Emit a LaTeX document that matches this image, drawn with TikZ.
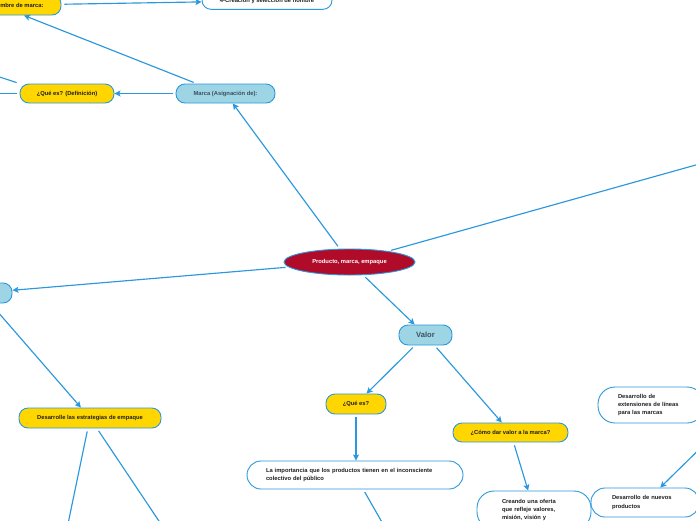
\documentclass[tikz,border=0pt]{standalone}
\usepackage{fontspec}
\setmainfont{Liberation Sans}
\usetikzlibrary{arrows.meta, shapes.geometric}
\definecolor{linkColor}{HTML}{2B97DD}
\definecolor{yellowFill}{HTML}{FFD600}
\definecolor{blueFill}{HTML}{9DD5E5}
\definecolor{redFill}{HTML}{B00C2A}
\definecolor{slateText}{HTML}{3D4F5F}

\tikzset{
    box/.style={draw=linkColor, line width=0.9pt, rounded corners=9pt, inner sep=0pt,
        font=\fontsize{5.8}{8.3}\selectfont\bfseries, text=black!88},
    yellowbox/.style={box, fill=yellowFill},
    bluebox/.style={box, fill=blueFill, text=slateText},
    whitebox/.style={box, fill=white, align=left, rounded corners=14pt, inner ysep=5pt},
    link/.style={draw=linkColor, line width=1.15pt, shorten <=3pt,
        -{Stealth[length=6pt, width=6pt, inset=1.2pt]}},
}

\begin{document}
\begin{tikzpicture}[x=1pt, y=-1pt]
    \useasboundingbox (0,0) rectangle (696,520);
    \clip (0,0) rectangle (696,520);

    % centre
    \node[ellipse, draw=linkColor, line width=0.9pt, fill=redFill, text=white, inner sep=0pt,
        minimum width=131pt, minimum height=26pt, font=\fontsize{5.8}{7}\selectfont\bfseries]
        (producto) at (349.5,262) {Producto, marca, empaque};

    % marca branch
    \node[bluebox, minimum width=99pt, minimum height=19pt] (marca) at (225.5,93.5) {Marca (Asignación de):};
    \node[yellowbox, minimum width=94pt, minimum height=19pt] (definicion) at (67,93.5) {¿Qué es? (Definición)};
    \node[yellowbox, minimum width=86pt, minimum height=20pt] (nombre) at (18,5) {Nombre de marca:};
    \node[box, fill=white, minimum width=130pt, minimum height=17pt] (creacion) at (267,0.8) {4-Creación y selección de nombre};
    \coordinate (defA) at (-40,64);
    \coordinate (defB) at (-40,93.5);

    % valor branch
    \node[bluebox, minimum width=53pt, minimum height=20pt, font=\fontsize{7.6}{9}\selectfont\bfseries] (valor) at (425.5,335) {Valor};
    \node[yellowbox, minimum width=60pt, minimum height=20pt] (quees) at (356,404) {¿Qué es?};
    \node[whitebox, text width=178pt, inner xsep=19pt, minimum height=28pt] (importancia) at (355,475)
        {La importancia que los productos tienen en el inconsciente\\colectivo del público};
    \node[yellowbox, minimum width=115pt, minimum height=19pt] (comodar) at (510.5,432.5) {¿Cómo dar valor a la marca?};
    \node[whitebox, text width=64pt, inner xsep=25pt, minimum height=38pt, rounded corners=17pt] (creando) at (534,510)
        {Creando una oferta\\que refleje valores,\\misión, visión y};
    \coordinate (impA) at (395,545);

    % right
    \node[whitebox, text width=66pt, inner xsep=20pt, minimum height=36pt, rounded corners=17pt] (extensiones) at (651,405)
        {Desarrollo de\\extensiones de líneas\\para las marcas};
    \node[whitebox, text width=66pt, inner xsep=21pt, minimum height=29pt] (nuevos) at (645,502.5)
        {Desarrollo de nuevos\\productos};
    \coordinate (topRight) at (760,147);
    \coordinate (nuevosIn) at (720,429);

    % empaque branch
    \node[bluebox, minimum width=64pt, minimum height=20pt] (empaque) at (-20,293) {};
    \node[yellowbox, minimum width=142pt, minimum height=20pt] (estrategias) at (90,418) {Desarrolle las estrategias de empaque};
    \coordinate (estA) at (63.6,545);
    \coordinate (estB) at (175,545);

    % connectors
    \draw[link] (producto) -- (marca);
    \draw[link] (producto) -- (topRight);
    \draw[link] (producto) -- (empaque);
    \draw[link] (producto) -- (valor);
    \draw[link] (marca) -- (definicion);
    \draw[link] ([xshift=-29pt]marca.north) -- ([xshift=6pt]nombre.south);
    \draw[link] (nombre) -- (creacion);
    \draw[link] (definicion.north west) -- (defA);
    \draw[link] (definicion) -- (defB);
    \draw[link] (valor) -- (quees);
    \draw[link] (valor) -- (comodar);
    \draw[link] (quees) -- (quees |- importancia.north);
    \draw[link] (importancia) -- (impA);
    \draw[link] (comodar) -- (creando);
    \draw[link] (nuevosIn) -- (nuevos);
    \draw[link] (empaque.-45) -- (estrategias);
    \draw[link] (estrategias) -- (estA);
    \draw[link] (estrategias) -- (estB);
\end{tikzpicture}
\end{document}
